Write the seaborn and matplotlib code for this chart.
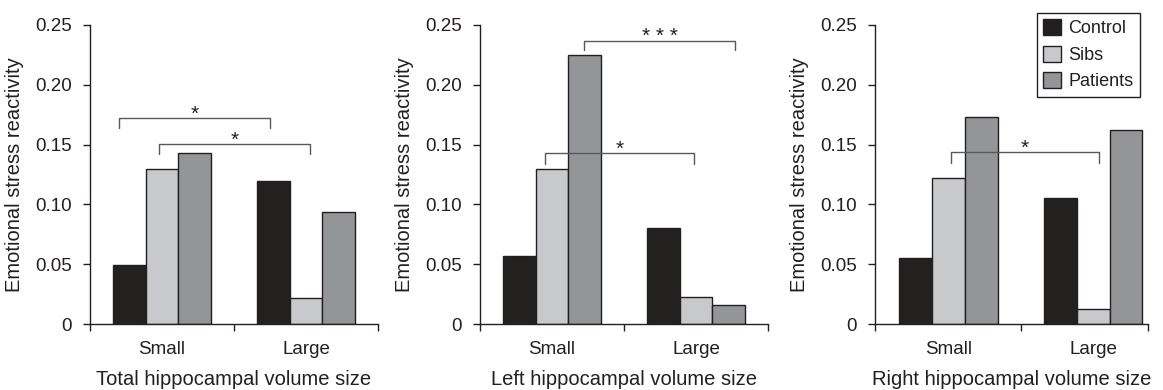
import numpy as np
import pandas as pd
import seaborn as sns
import matplotlib.pyplot as plt
from matplotlib.patches import Patch

# categories
groups = ['Small', 'Large']
subjects = ['Control', 'Sibs', 'Patients']

# emotional stress reactivity (Control, Sibs, Patients)
total_small = [0.049, 0.130, 0.143]
total_large = [0.120, 0.022, 0.094]
left_small = [0.057, 0.130, 0.225]
left_large = [0.080, 0.023, 0.016]
right_small = [0.055, 0.122, 0.173]
right_large = [0.105, 0.013, 0.162]

xlabels = ['Total hippocampal volume size',
           'Left hippocampal volume size',
           'Right hippocampal volume size']
ytick_vals = [0, 0.05, 0.10, 0.15, 0.20, 0.25]
ytick_labels = ['0', '0.05', '0.10', '0.15', '0.20', '0.25']

# significance brackets: x start, x end, bar height, leg end, label
brackets = [
    [(-0.30, 0.75, 0.172, 0.164, '*'), (-0.02, 1.03, 0.1506, 0.142, '*')],
    [(0.224, 1.27, 0.237, 0.229, '* * *'), (-0.05, 0.99, 0.1428, 0.134, '*')],
    [(0.015, 1.04, 0.144, 0.135, '*')],
]

colors = {'Control': '#231f20', 'Sibs': '#c8c9cb', 'Patients': '#939598'}
dark = '#231f20'

sns.set_style('ticks')
plt.rcParams['font.family'] = ['Liberation Sans', 'DejaVu Sans']
plt.rcParams['text.color'] = dark
plt.rcParams['axes.labelcolor'] = dark
plt.rcParams['xtick.color'] = dark
plt.rcParams['ytick.color'] = dark


def make_df(small, large):
    return pd.DataFrame({'size': np.repeat(groups, len(subjects)),
                         'group': subjects * 2,
                         'value': small + large})


data = [make_df(total_small, total_large),
        make_df(left_small, left_large),
        make_df(right_small, right_large)]

fig = plt.figure(figsize=(11.63, 3.9), dpi=100)
positions = [[0.0774, 0.169, 0.2476, 0.767],
             [0.4127, 0.169, 0.2476, 0.767],
             [0.7524, 0.169, 0.2347, 0.767]]
xlims = [(-0.5, 1.5), (-0.5, 1.5), (-0.508, 1.378)]

for i, df in enumerate(data):
    ax = fig.add_axes(positions[i])
    sns.barplot(data=df, x='size', y='value', hue='group', order=groups,
                hue_order=subjects, palette=colors, width=0.68, gap=0,
                edgecolor=dark, linewidth=1, errorbar=None, legend=False, ax=ax)
    ax.set_xlim(*xlims[i])
    ax.set_ylim(0, 0.25)
    ax.set_yticks(ytick_vals)
    ax.set_yticklabels(ytick_labels, fontsize=13.5)
    ax.tick_params(axis='y', length=5, width=1, pad=8)
    ax.set_xticks([0, 1])
    ax.set_xticklabels(groups, fontsize=13.5)
    ax.set_xticks([xlims[i][0], 0.5, xlims[i][1]], minor=True)
    ax.tick_params(axis='x', which='major', length=0, pad=12)
    ax.tick_params(axis='x', which='minor', length=5, width=1)
    ax.set_xlabel(xlabels[i], fontsize=14.5, labelpad=9)
    ax.set_ylabel('Emotional stress reactivity', fontsize=14.5, labelpad=8)
    sns.despine(ax=ax)
    for side in ['left', 'bottom']:
        ax.spines[side].set_color(dark)
        ax.spines[side].set_linewidth(1)

    for x1, x2, y, leg, label in brackets[i]:
        ax.plot([x1, x1, x2, x2], [leg, y, y, leg], color='#58595b', lw=1,
                clip_on=False)
        ax.text((x1 + x2) / 2, y + 0.003, label, ha='center', va='center',
                fontsize=15, color=dark, clip_on=False)

    if i == 2:
        handles = [Patch(facecolor=colors[s], edgecolor=dark, label=s)
                   for s in subjects]
        leg = ax.legend(handles=handles, loc='upper right',
                        bbox_to_anchor=(0.980, 0.967),
                        bbox_transform=fig.transFigure, fontsize=13,
                        frameon=True, fancybox=False, edgecolor=dark,
                        framealpha=1, handlelength=1.0, handleheight=1.0,
                        handletextpad=0.4, labelspacing=0.45, borderpad=0.35,
                        borderaxespad=0)
        leg.get_frame().set_linewidth(1)

fig.savefig('out.png', dpi=100)
